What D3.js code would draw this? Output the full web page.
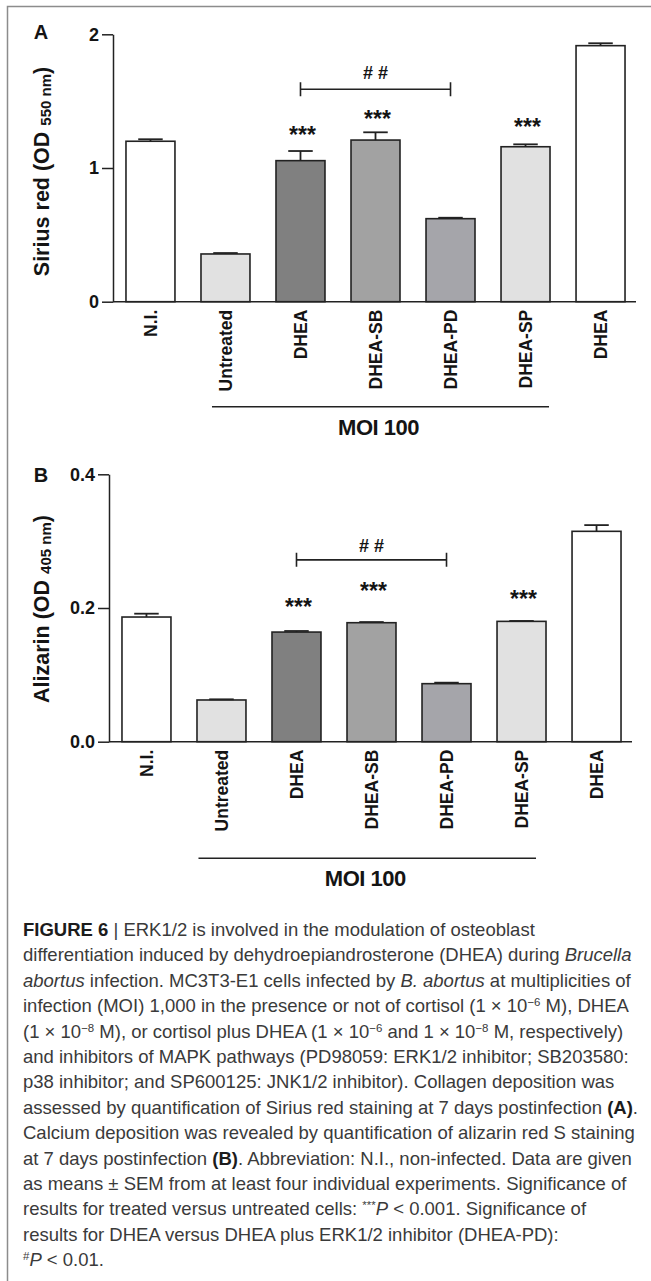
<!DOCTYPE html>
<html>
<head>
<meta charset="utf-8">
<script src="https://cdn.jsdelivr.net/npm/d3@7"></script>
<style>
  body { margin: 0; background: #fff; }
  svg { display: block; }
</style>
</head>
<body>
<svg id="fig" width="651" height="1281"></svg>
<script>
// groups on the x axis (the last DHEA is the non-infected + DHEA control)
const groups = ["N.I.", "Untreated", "DHEA", "DHEA-SB", "DHEA-PD", "DHEA-SP", "DHEA"]
const fills = ["#ffffff", "#e1e1e1", "#808080", "#a2a2a2", "#a5a5aa", "#e1e1e1", "#ffffff"]

// panel A: Sirius red (OD 550 nm)
const siriusMean  = [1.200, 0.357, 1.055, 1.209, 0.621, 1.159, 1.915]
const siriusSem   = [0.015, 0.007, 0.072, 0.058, 0.007, 0.018, 0.018]
const siriusStars = [null, null, 1.28, 1.40, null, 1.34, null]
const siriusTicks = [0, 1, 2]
const siriusBracket = 1.589   // ## DHEA vs DHEA-PD
const siriusHash = 1.713

// panel B: Alizarin (OD 405 nm)
const alizarinMean  = [0.1865, 0.0624, 0.164, 0.178, 0.0868, 0.180, 0.3147]
const alizarinSem   = [0.005, 0.001, 0.0016, 0.001, 0.0015, 0.0006, 0.0093]
const alizarinStars = [null, null, 0.208, 0.232, null, 0.2195, null]
const alizarinTicks = [0, 0.2, 0.4]
const alizarinBracket = 0.272
const alizarinHash = 0.294

const captionLines = [
  "**FIGURE 6** | ERK1/2 is involved in the modulation of osteoblast",
  "differentiation induced by dehydroepiandrosterone (DHEA) during _Brucella_",
  "_abortus_ infection. MC3T3-E1 cells infected by _B. abortus_ at multiplicities of",
  "infection (MOI) 1,000 in the presence or not of cortisol (1 × 10^−6^ M), DHEA",
  "(1 × 10^−8^ M), or cortisol plus DHEA (1 × 10^−6^ and 1 × 10^−8^ M, respectively)",
  "and inhibitors of MAPK pathways (PD98059: ERK1/2 inhibitor; SB203580:",
  "p38 inhibitor; and SP600125: JNK1/2 inhibitor). Collagen deposition was",
  "assessed by quantification of Sirius red staining at 7 days postinfection **(A)**.",
  "Calcium deposition was revealed by quantification of alizarin red S staining",
  "at 7 days postinfection **(B)**. Abbreviation: N.I., non-infected. Data are given",
  "as means ± SEM from at least four individual experiments. Significance of",
  "results for treated versus untreated cells: ^***^_P_ < 0.001. Significance of",
  "results for DHEA versus DHEA plus ERK1/2 inhibitor (DHEA-PD):",
  "^#^_P_ < 0.01."
]

const svg = d3.select("#fig")
const FONT = "'Liberation Sans', Arial, sans-serif"
const INK = "#141414"

// frame (cut off at right and bottom)
svg.append("path").attr("d", "M7.5,1281V6.5H651")
  .attr("fill", "none").attr("stroke", "#8c8c8c").attr("stroke-width", 1.5)

function panel(o) {
  let g = svg.append("g").style("font-family", FONT)
  let x = d3.scaleBand().domain(d3.range(groups.length))
    .range(o.xr).paddingInner(0.347).paddingOuter(0.173)
  let y = d3.scaleLinear().domain([0, o.ticks[o.ticks.length - 1]]).range(o.yr)
  let bw = x.bandwidth()

  // bars
  g.selectAll("rect.bar").data(o.mean).enter().append("rect")
    .attr("class", "bar")
    .attr("x", (d, i) => x(i)).attr("width", bw)
    .attr("y", d => y(d)).attr("height", d => y(0) - y(d))
    .attr("fill", (d, i) => fills[i])
    .attr("stroke", "#222").attr("stroke-width", 1.6)

  // error bars (upper half only)
  let err = g.selectAll("g.err").data(o.mean).enter().append("g")
    .attr("stroke", "#222").attr("stroke-width", 1.8)
  err.append("line")
    .attr("x1", (d, i) => x(i) + bw / 2).attr("x2", (d, i) => x(i) + bw / 2)
    .attr("y1", d => y(d)).attr("y2", (d, i) => y(d + o.sem[i]))
  err.append("line")
    .attr("x1", (d, i) => x(i) + bw / 4).attr("x2", (d, i) => x(i) + bw * 3 / 4)
    .attr("y1", (d, i) => y(d + o.sem[i])).attr("y2", (d, i) => y(d + o.sem[i]))

  // y axis
  let ya = g.append("g").attr("transform", "translate(" + o.axisX + ",0)")
    .call(d3.axisLeft(y).tickValues(o.ticks).tickSize(11).tickSizeOuter(0)
      .tickPadding(3).tickFormat(o.fmt))
  ya.selectAll("path, line").attr("stroke", "#222").attr("stroke-width", 1.5)
  ya.selectAll("text").attr("fill", INK).style("font-size", "18px")
    .style("font-weight", "bold").style("font-family", FONT)

  // x axis with rotated labels
  let xa = g.append("g").attr("transform", "translate(0," + y(0) + ")")
    .call(d3.axisBottom(x).tickSize(0).tickSizeOuter(0).tickFormat(i => groups[i]))
  xa.select("path").attr("stroke", "#222").attr("stroke-width", 1.5)
    .attr("d", "M" + o.axisX + ",0H" + (o.xr[1] - 2))
  xa.selectAll("text")
    .attr("transform", "rotate(-90)")
    .attr("text-anchor", "end")
    .attr("x", -8).attr("y", 0).attr("dy", "0.36em")
    .attr("fill", INK).style("font-size", "17.5px")
    .style("font-weight", "bold").style("font-family", FONT)

  // *** markers
  g.selectAll("text.star").data(o.stars.map((s, i) => ({ s, i })).filter(d => d.s != null))
    .enter().append("text")
    .attr("x", d => x(d.i) + bw / 2 + 2).attr("y", d => y(d.s) + 12)
    .attr("text-anchor", "middle").attr("fill", INK)
    .style("font-size", "23px").style("font-weight", "bold")
    .text("***")

  // ## bracket between DHEA and DHEA-PD
  let bx1 = x(2) + bw / 2, bx2 = x(4) + bw / 2, by = y(o.bracket)
  g.append("path")
    .attr("d", `M${bx1},${by - 7}V${by + 7}M${bx1},${by}H${bx2}M${bx2},${by - 7}V${by + 7}`)
    .attr("fill", "none").attr("stroke", "#222").attr("stroke-width", 1.6)
  g.append("text")
    .attr("x", (bx1 + bx2) / 2).attr("y", y(o.hash) + 6.5)
    .attr("text-anchor", "middle").attr("fill", INK)
    .style("font-size", "18px").style("font-weight", "bold")
    .text("# #")

  // y axis title
  let t = g.append("text")
    .attr("transform", `translate(${o.titleX},${o.titleY}) rotate(-90)`)
    .attr("text-anchor", "middle").attr("fill", INK)
    .style("font-weight", "bold").style("font-size", "21.5px")
  t.append("tspan").text(o.title + " (OD ")
  t.append("tspan").style("font-size", "15px").attr("dy", 1.5).text(o.sub)
  t.append("tspan").attr("dy", -1.5).text(")")

  // panel letter
  g.append("text").attr("x", 41).attr("y", o.letterY)
    .attr("text-anchor", "middle").attr("fill", INK)
    .style("font-weight", "bold").style("font-size", "20px")
    .text(o.letter)

  // MOI 100 group line
  g.append("line")
    .attr("x1", x(1) + o.moi[0]).attr("x2", x(5) + bw + o.moi[1])
    .attr("y1", o.moiY).attr("y2", o.moiY)
    .attr("stroke", "#222").attr("stroke-width", 1.6)
  g.append("text")
    .attr("x", (x(1) + o.moi[0] + x(5) + bw + o.moi[1]) / 2 - 2).attr("y", o.moiY + 28)
    .attr("text-anchor", "middle").attr("fill", INK)
    .style("font-weight", "bold").style("font-size", "22px")
    .style("letter-spacing", "-0.5px")
    .text("MOI 100")
}

panel({
  mean: siriusMean, sem: siriusSem, stars: siriusStars, ticks: siriusTicks,
  bracket: siriusBracket, hash: siriusHash, fmt: d3.format("d"),
  xr: [113, 638], yr: [301.7, 34.3], axisX: 113,
  title: "Sirius red", sub: "550 nm", titleX: 49, titleY: 171.5,
  letter: "A", letterY: 38.5, moi: [11, -1], moiY: 406.7
})

panel({
  mean: alizarinMean, sem: alizarinSem, stars: alizarinStars, ticks: alizarinTicks,
  bracket: alizarinBracket, hash: alizarinHash, fmt: d3.format(".1f"),
  xr: [109, 634], yr: [741.7, 474.3], axisX: 109,
  title: "Alizarin", sub: "405 nm", titleX: 49, titleY: 609,
  letter: "B", letterY: 482, moi: [1.5, -10], moiY: 858.3
})

// caption with a tiny markup: **bold**, _italic_, ^sup^
let cap = svg.append("g").style("font-family", FONT).attr("fill", "#3a3a3a")
function writeLine(sel, str) {
  let parts = str.split(/(\*\*[^*]+\*\*|_[^_]+_|\^[^^]+\^)/).filter(s => s.length)
  let shift = 0
  parts.forEach(p => {
    let ts = sel.append("tspan")
    let back = -shift
    shift = 0
    if (p.startsWith("**")) {
      ts.text(p.slice(2, -2)).style("font-weight", "bold").attr("fill", "#1c1c1c")
    } else if (p.startsWith("_")) {
      ts.text(p.slice(1, -1)).style("font-style", "italic")
    } else if (p.startsWith("^")) {
      ts.text(p.slice(1, -1)).style("font-size", "0.62em")
      shift = -6
    } else {
      ts.text(p)
    }
    if (back + shift !== 0) ts.attr("dy", back + shift)
  })
}
let capSize = 16
let probe = cap.append("text").style("font-size", capSize + "px")
writeLine(probe, captionLines[7])
capSize = capSize * 615 / probe.node().getComputedTextLength()
probe.remove()

captionLines.forEach((line, i) => {
  let t = cap.append("text").attr("x", 23).attr("y", 936 + i * 25.4)
    .style("font-size", capSize + "px")
  writeLine(t, line)
})
</script>
</body>
</html>
